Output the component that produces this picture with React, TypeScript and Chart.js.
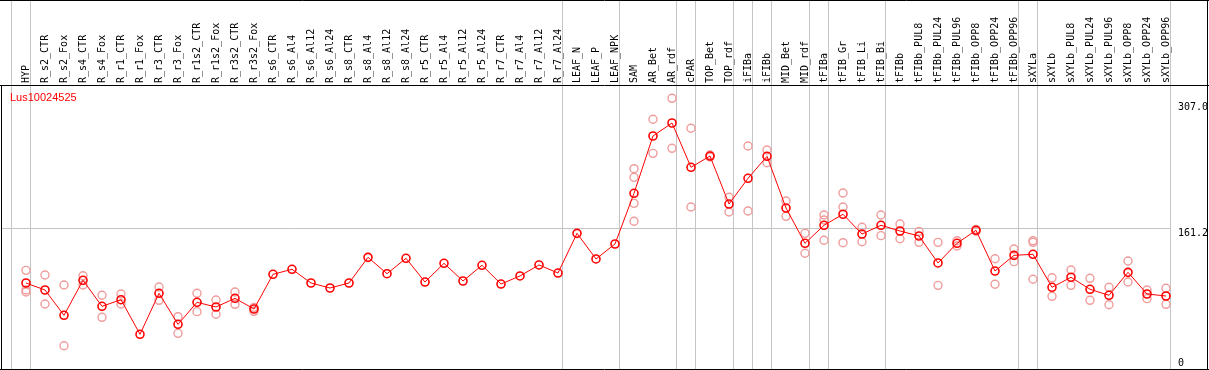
import React, { useEffect, useRef } from 'react';
import { Chart, registerables } from 'chart.js';

Chart.register(...registerables);

const geneId = 'Lus10024525';

const categories = [
  'HYP', 'R_s2_CTR', 'R_s2_Fox', 'R_s4_CTR', 'R_s4_Fox', 'R_r1_CTR', 'R_r1_Fox', 'R_r3_CTR', 'R_r3_Fox',
  'R_r1s2_CTR', 'R_r1s2_Fox', 'R_r3s2_CTR', 'R_r3s2_Fox', 'R_s6_CTR', 'R_s6_Al4', 'R_s6_Al12', 'R_s6_Al24',
  'R_s8_CTR', 'R_s8_Al4', 'R_s8_Al12', 'R_s8_Al24', 'R_r5_CTR', 'R_r5_Al4', 'R_r5_Al12', 'R_r5_Al24',
  'R_r7_CTR', 'R_r7_Al4', 'R_r7_Al12', 'R_r7_Al24', 'LEAF_N', 'LEAF_P', 'LEAF_NPK', 'SAM', 'AR_Bet', 'AR_rdf',
  'cPAR', 'TOP_Bet', 'TOP_rdf', 'iFIBa', 'iFIBb', 'MID_Bet', 'MID_rdf', 'tFIBa', 'tFIB_Gr', 'tFIB_Li', 'tFIB_Bi',
  'tFIBb', 'tFIBb_PUL8', 'tFIBb_PUL24', 'tFIBb_PUL96', 'tFIBb_OPP8', 'tFIBb_OPP24', 'tFIBb_OPP96', 'sXYLa',
  'sXYLb', 'sXYLb_PUL8', 'sXYLb_PUL24', 'sXYLb_PUL96', 'sXYLb_OPP8', 'sXYLb_OPP24', 'sXYLb_OPP96',
];

const meanValues = [
  98.1, 90.0, 60.8, 101.2, 71.2, 78.8, 38.9, 86.2, 50.4,
  75.8, 70.4, 80.4, 68.1, 108.1, 113.9, 98.1, 92.3,
  98.1, 127.7, 108.8, 126.6, 99.2, 120.8, 100.4, 118.5,
  96.9, 106.2, 118.9, 109.6, 155.4, 125.8, 143.1, 201.6, 267.7, 282.7,
  231.6, 244.6, 189.2, 218.9, 244.3, 184.6, 143.9, 164.7, 177.4, 154.6, 164.7,
  158.1, 152.3, 121.2, 143.9, 158.9, 111.9, 130.0, 131.2,
  93.1, 104.7, 90.8, 83.9, 110.4, 85.4, 83.1,
];

const rep1 = [
  112.7, 107.3, 95.8, 106.5, 83.9, 85.4, null, 93.5, 59.2,
  86.2, 78.5, 87.7, 70.0, null, null, null, null,
  null, null, null, null, null, null, null, null,
  null, null, null, null, null, null, null, 230.0, 287.0, 311.2,
  276.6, 245.8, 197.0, 256.2, 251.6, 192.7, 155.4, 176.5, 201.9, 162.4, 176.5,
  166.2, 157.7, 145.0, 146.9, 160.0, 126.1, 137.3, 146.9,
  104.2, 113.1, 103.5, 93.1, 123.5, 90.0, 92.0,
];

const rep2 = [
  90.0, 73.8, 25.7, 95.8, 58.5, 73.8, null, 78.1, 40.0,
  65.0, 62.0, 73.5, 65.4, null, null, null, null,
  null, null, null, null, null, null, null, null,
  null, null, null, null, null, null, null, 220.0, 247.7, 253.5,
  185.8, 243.5, 180.0, 181.2, 236.9, 175.0, 132.4, 170.8, 185.8, 145.7, 152.7,
  149.2, 145.0, 95.4, 140.8, 157.8, 96.6, 122.7, 145.0,
  82.7, 95.4, 78.1, 73.0, 99.2, 80.0, 73.5,
];

const rep3 = [
  87.7, null, null, null, null, null, null, null, null,
  null, null, null, null, null, null, null, null,
  null, null, null, null, null, null, null, null,
  null, null, null, null, null, null, null, 190.0, null, null,
  null, null, null, null, null, null, null, 147.4, 144.6, null, null,
  null, null, null, null, null, null, null, 102.4,
  null, null, null, null, null, null, null,
];

const rep4 = [
  null, null, null, null, null, null, null, null, null,
  null, null, null, null, null, null, null, null,
  null, null, null, null, null, null, null, null,
  null, null, null, null, null, null, null, 169.3, null, null,
  null, null, null, null, null, null, null, null, null, null, null,
  null, null, null, null, null, null, null, null,
  null, null, null, null, null, null, null,
];

// separators are drawn just right of these category indices
const separatorAfter = [-1, 0, 28, 31, 34, 35, 37, 38, 39, 41, 42, 45, 52, 53, 60];

const yTickValues = [307.0, 161.2, 0];
const yTickLabels = ['307.0', '161.2', '0'];
const midLineValue = 161.2;

const MONO = '"DejaVu Sans Mono", "Liberation Mono", monospace';

const framePlugin = {
  id: 'frame',
  beforeDatasetsDraw(chart: any) {
    const { ctx, scales, height } = chart;
    const x = scales.x;
    const y = scales.y;
    ctx.save();
    ctx.strokeStyle = '#c4c4c4';
    ctx.lineWidth = 1;
    separatorAfter.forEach((i) => {
      const px = Math.round(x.getPixelForValue(i + 0.21)) + 0.5;
      ctx.beginPath();
      ctx.moveTo(px, 0);
      ctx.lineTo(px, height);
      ctx.stroke();
    });
    const py = Math.round(y.getPixelForValue(midLineValue)) + 0.5;
    const rx = Math.round(x.getPixelForValue(60.21));
    ctx.beginPath();
    ctx.moveTo(1, py);
    ctx.lineTo(rx, py);
    ctx.stroke();
    ctx.restore();
  },
  afterDraw(chart: any) {
    const { ctx, scales, width, height, chartArea } = chart;
    const x = scales.x;
    const y = scales.y;
    ctx.save();
    ctx.strokeStyle = '#000';
    ctx.lineWidth = 1;
    ctx.beginPath();
    ctx.moveTo(0, 0.5); ctx.lineTo(width, 0.5);
    ctx.moveTo(0, Math.round(chartArea.top) + 0.5); ctx.lineTo(width, Math.round(chartArea.top) + 0.5);
    ctx.moveTo(0, height - 0.5); ctx.lineTo(width, height - 0.5);
    ctx.moveTo(1.5, Math.round(chartArea.top)); ctx.lineTo(1.5, height);
    ctx.moveTo(width - 1.5, 0); ctx.lineTo(width - 1.5, height);
    ctx.stroke();
    ctx.fillStyle = '#000';
    ctx.font = '10px ' + MONO;
    ctx.textAlign = 'left';
    const lx = Math.round(x.getPixelForValue(60.21)) + 8;
    yTickValues.forEach((v, k) => {
      const py = y.getPixelForValue(v);
      if (v === 0) {
        ctx.textBaseline = 'alphabetic';
        ctx.fillText(yTickLabels[k], lx, py - 2);
      } else {
        ctx.textBaseline = 'top';
        ctx.fillText(yTickLabels[k], lx, py);
      }
    });
    ctx.fillStyle = '#ff0000';
    ctx.font = '11px "Liberation Sans", Arial, sans-serif';
    ctx.textBaseline = 'alphabetic';
    ctx.fillText(geneId, 10, Math.round(chartArea.top) + 16);
    ctx.restore();
  },
};

export default function App() {
  const ref = useRef<HTMLCanvasElement>(null);
  useEffect(() => {
    document.body.style.margin = '0';
    const meanData = meanValues.map((v, i) => ({ x: i, y: v }));
    const repData: { x: number; y: number }[] = [];
    [rep1, rep2, rep3, rep4].forEach((arr) => {
      arr.forEach((v, i) => {
        if (v !== null && v !== undefined) repData.push({ x: i, y: v as number });
      });
    });
    const chart = new Chart(ref.current as HTMLCanvasElement, {
      type: 'line',
      data: {
        datasets: [
          {
            label: 'mean',
            data: meanData,
            order: 0,
            borderColor: '#ff0000',
            borderWidth: 1,
            pointRadius: 4,
            pointBorderWidth: 1.6,
            pointBorderColor: '#ff0000',
            pointBackgroundColor: 'rgba(0,0,0,0)',
            tension: 0,
            fill: false,
          },
          {
            label: 'replicates',
            data: repData,
            order: 1,
            showLine: false,
            pointRadius: 4,
            pointBorderWidth: 1.4,
            pointBorderColor: '#f09c9c',
            pointBackgroundColor: 'rgba(0,0,0,0)',
            borderColor: '#f09c9c',
          },
        ],
      },
      options: {
        animation: false,
        responsive: false,
        devicePixelRatio: 1,
        layout: { padding: 0, autoPadding: false },
        plugins: { legend: { display: false }, tooltip: { enabled: false }, title: { display: false } },
        scales: {
          x: {
            type: 'linear',
            position: 'top',
            min: -26 / 19,
            max: (1209 - 26) / 19,
            afterBuildTicks: (axis: any) => {
              axis.ticks = categories.map((_, i) => ({ value: i }));
            },
            afterFit: (axis: any) => {
              axis.height = 85;
            },
            grid: { display: false, drawTicks: false },
            border: { display: false },
            ticks: {
              autoSkip: false,
              minRotation: 90,
              maxRotation: 90,
              padding: 2,
              labelOffset: 12,
              color: '#000',
              font: { family: MONO, size: 10 },
              callback: (v: any) => categories[v as number] ?? '',
            },
          },
          y: {
            type: 'linear',
            display: false,
            min: -2.308,
            max: 326.56,
          },
        },
      },
      plugins: [framePlugin],
    } as any);
    return () => chart.destroy();
  }, []);
  return (
    <div style={{ position: 'absolute', left: 0, top: 0, width: 1209, height: 370, background: '#fff' }}>
      <canvas ref={ref} width={1209} height={370} style={{ display: 'block' }} />
    </div>
  );
}
